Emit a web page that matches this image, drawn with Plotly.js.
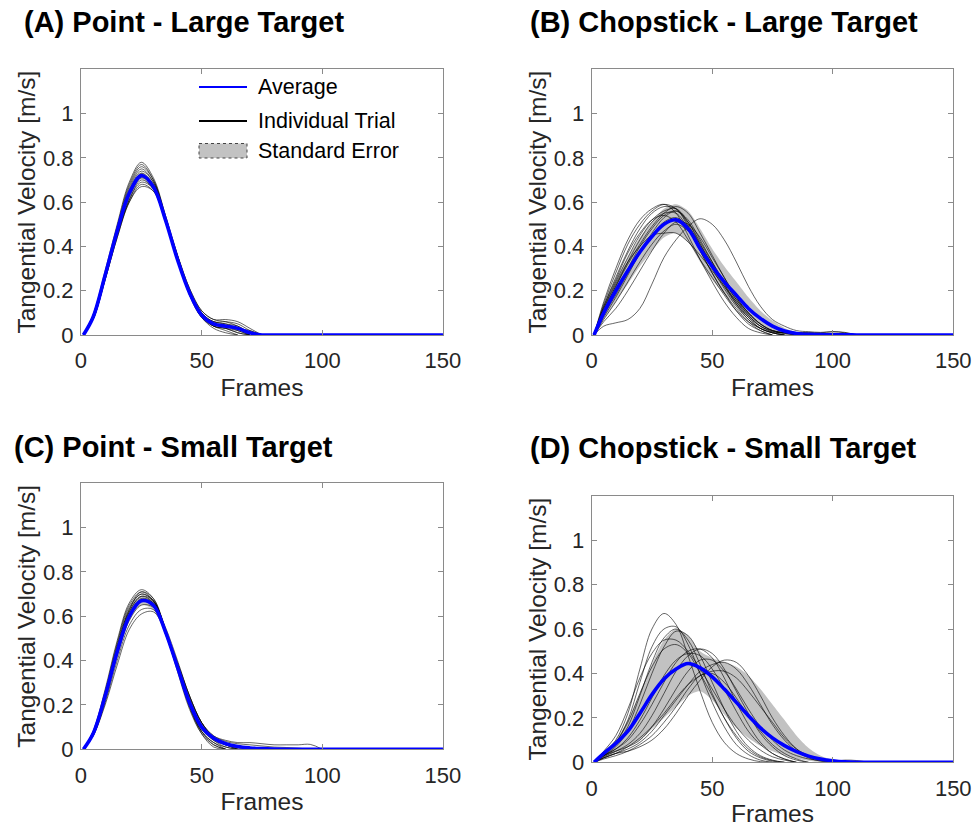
<!DOCTYPE html>
<html>
<head>
<meta charset="utf-8">
<script src="https://cdn.plot.ly/plotly-3.0.1.min.js"></script>
<style>html,body{margin:0;padding:0;background:#fff;}#chart{width:977px;height:827px;}</style>
</head>
<body>
<div id="chart"></div>
<script>
// ---------- DATA ----------
const FRAMES = [1,5,10,15,20,25,30,35,40,45,50,55,60,65,70,75,80,85,90,95,100,105,110,115,120,125,130,135,140,145,150];
const X_TICKS = [0,50,100,150];
const Y_TICKS = [0,0.2,0.4,0.6,0.8,1];
const Y_TICK_TEXT = ['0','0.2','0.4','0.6','0.8','1'];
const PANEL_TITLES = ['(A) Point - Large Target','(B) Chopstick - Large Target','(C) Point - Small Target','(D) Chopstick - Small Target'];
const LEGEND_LABELS = ['Average','Individual Trial','Standard Error'];

// Panel A – Point, large target
const avgA = [0,.08,.27,.47,.64,.72,.67,.52,.34,.19,.09,.05,.04,.03,.01,0,0,0,0,0,0,0,0,0,0,0,0,0,0,0,0];
const seUpperA = [0,.085,.28,.485,.655,.735,.685,.53,.35,.198,.097,.057,.047,.036,.015,0];
const seLowerA = [0,.075,.26,.455,.625,.705,.655,.51,.33,.182,.083,.043,.033,.024,.005,0];
const trialsA = [
  [0,.09,.29,.50,.69,.78,.71,.54,.35,.19,.09,.06,.05,.03,0],
  [0,.09,.28,.49,.68,.77,.70,.53,.34,.18,.08,.05,.04,.02,0],
  [0,.08,.28,.48,.67,.76,.70,.54,.36,.20,.10,.06,.05,.04,.01,0],
  [0,.08,.27,.48,.66,.75,.69,.53,.35,.19,.09,.04,.03,.01,0],
  [0,.08,.27,.47,.65,.74,.69,.53,.35,.20,.10,.06,.06,.05,.02,0],
  [0,.08,.27,.47,.64,.73,.68,.52,.34,.18,.08,.04,.02,0],
  [0,.08,.26,.46,.63,.72,.68,.53,.36,.21,.11,.07,.06,.04,.01,0],
  [0,.08,.26,.46,.62,.71,.67,.52,.34,.19,.08,.04,.03,.02,0],
  [0,.07,.26,.45,.61,.70,.66,.52,.35,.20,.10,.05,.04,.03,.02,0],
  [0,.07,.25,.45,.61,.69,.66,.52,.35,.20,.09,.04,.03,.01,0],
  [0,.07,.25,.44,.60,.68,.65,.51,.34,.19,.08,.03,.01,0],
  [0,.07,.25,.44,.60,.67,.65,.52,.36,.21,.11,.07,.07,.06,.03,0]
];

// Panel B – Chopstick, large target
const avgB = [0,.10,.20,.29,.375,.445,.50,.52,.48,.39,.31,.24,.18,.12,.075,.04,.018,.007,.003,.002,.001,.001,0,0,0,0,0,0,0,0,0];
const seUpperB = [0,.13,.25,.35,.44,.51,.57,.59,.56,.48,.39,.31,.24,.17,.11,.065,.032,.014,.006,.004,.003,.002,0];
const seLowerB = [0,.07,.15,.23,.31,.38,.44,.46,.42,.33,.25,.185,.13,.08,.045,.02,.007,.002,0,0,0,0,0];
const trialsB = [
  [0,.15,.30,.43,.52,.57,.59,.55,.45,.34,.24,.15,.08,.03,.01,0],
  [0,.14,.28,.41,.50,.56,.59,.57,.49,.38,.28,.19,.11,.05,.02,0],
  [0,.13,.26,.38,.48,.55,.58,.57,.50,.40,.30,.21,.13,.07,.03,.01,0],
  [0,.12,.24,.35,.45,.52,.56,.57,.51,.41,.31,.22,.14,.08,.04,.015,.01,.01,.01,0],
  [0,.11,.22,.33,.43,.51,.55,.55,.48,.38,.28,.19,.12,.06,.02,0],
  [0,.13,.25,.37,.46,.52,.54,.51,.43,.34,.26,.18,.11,.06,.03,.01,0],
  [0,.10,.20,.30,.40,.48,.54,.56,.51,.42,.33,.24,.16,.09,.04,.02,.01,0],
  [0,.12,.23,.33,.40,.45,.46,.46,.42,.36,.29,.22,.15,.09,.04,.015,.01,.01,.012,.01,.015,.01,0],
  [0,.09,.18,.28,.37,.45,.51,.53,.49,.41,.32,.23,.15,.08,.03,.01,0],
  [0,.08,.17,.27,.37,.46,.53,.56,.52,.43,.33,.23,.14,.07,.03,.01,0],
  [0,.07,.15,.24,.33,.41,.47,.50,.47,.40,.32,.24,.16,.10,.05,.02,.01,0],
  [0,.04,.055,.07,.12,.23,.35,.43,.49,.525,.50,.43,.33,.22,.13,.07,.04,.02,.015,.012,.015,.012,0],
  [0,.06,.12,.20,.29,.38,.46,.51,.50,.44,.35,.26,.17,.10,.05,.02,.005,0],
  [0,.11,.22,.32,.41,.49,.55,.58,.55,.46,.36,.26,.17,.10,.05,.02,.01,0]
];

// Panel C – Point, small target
const avgC = [0,.07,.24,.44,.60,.67,.65,.53,.37,.21,.10,.05,.025,.012,.006,.003,.001,0,0,0,0,0,0,0,0,0,0,0,0,0,0];
const seUpperC = [0,.078,.255,.46,.618,.69,.67,.547,.385,.222,.11,.057,.03,.016,.009,.005,.002,0];
const seLowerC = [0,.062,.225,.42,.582,.65,.63,.513,.355,.198,.09,.043,.02,.008,.003,.001,0,0];
const trialsC = [
  [0,.08,.27,.49,.66,.72,.68,.53,.35,.18,.07,.02,0],
  [0,.08,.26,.48,.65,.71,.67,.53,.36,.19,.08,.03,0],
  [0,.07,.25,.47,.64,.70,.67,.54,.37,.20,.08,.02,0],
  [0,.07,.25,.46,.63,.70,.67,.53,.36,.19,.07,.01,0],
  [0,.07,.24,.45,.62,.69,.67,.54,.38,.22,.10,.04,.01,0],
  [0,.07,.24,.44,.61,.68,.66,.54,.38,.22,.11,.05,.02,0],
  [0,.07,.23,.43,.60,.67,.66,.55,.40,.24,.12,.06,.04,.03,.03,.025,.02,.02,.02,.022,0],
  [0,.06,.22,.42,.58,.65,.64,.53,.38,.23,.12,.06,.035,.025,.02,.015,.01,.008,.005,0],
  [0,.06,.21,.40,.56,.63,.63,.53,.39,.24,.12,.05,.02,0],
  [0,.06,.20,.38,.54,.61,.62,.53,.39,.24,.12,.05,.02,.005,0],
  [0,.07,.25,.46,.63,.71,.68,.54,.37,.20,.08,.03,.01,0],
  [0,.07,.24,.45,.62,.69,.66,.52,.36,.20,.09,.04,.02,.01,0]
];

// Panel D – Chopstick, small target
const avgD = [0,.04,.085,.14,.22,.305,.375,.42,.445,.425,.385,.33,.27,.21,.155,.11,.075,.048,.028,.015,.007,.002,0,0,0,0,0,0,0,0,0];
const seUpperD = [0,.05,.10,.19,.31,.44,.55,.60,.57,.50,.47,.45,.43,.39,.33,.26,.19,.12,.065,.03,.012,.003,0];
const seLowerD = [0,.02,.045,.07,.10,.15,.20,.25,.30,.32,.28,.215,.155,.11,.075,.05,.03,.016,.007,.002,0,0,0];
const trialsD = [
  [0,.04,.10,.22,.42,.60,.67,.62,.48,.32,.18,.09,.04,.015,.003,0],
  [0,.04,.09,.19,.36,.52,.60,.61,.53,.40,.27,.16,.08,.035,.01,0],
  [0,.03,.08,.16,.30,.45,.56,.60,.55,.44,.31,.20,.11,.05,.02,.005,0],
  [0,.03,.07,.14,.26,.40,.52,.59,.57,.48,.36,.24,.14,.07,.03,.01,0],
  [0,.04,.09,.18,.31,.43,.51,.53,.49,.40,.30,.20,.12,.06,.025,.008,0],
  [0,.03,.06,.10,.17,.26,.36,.45,.50,.51,.47,.38,.27,.17,.09,.04,.015,0],
  [0,.025,.05,.08,.13,.21,.31,.41,.48,.51,.49,.42,.32,.22,.13,.07,.03,.01,0],
  [0,.03,.06,.11,.19,.29,.39,.46,.49,.48,.42,.33,.23,.14,.08,.04,.015,0],
  [0,.02,.04,.05,.07,.10,.15,.22,.30,.37,.43,.46,.45,.39,.30,.20,.12,.06,.025,.01,.003,0],
  [0,.02,.04,.06,.09,.14,.21,.28,.35,.41,.44,.45,.42,.35,.26,.17,.10,.05,.02,.005,0],
  [0,.02,.04,.07,.11,.16,.22,.29,.35,.39,.41,.41,.38,.32,.25,.18,.11,.06,.03,.01,.003,0],
  [0,.015,.03,.05,.08,.12,.18,.25,.33,.39,.40,.36,.29,.21,.14,.08,.04,.015,0],
  [0,.03,.05,.07,.10,.16,.24,.33,.41,.46,.46,.41,.33,.24,.16,.10,.055,.03,.015,.008,.004,.01,.008,0],
  [0,.05,.12,.24,.38,.49,.55,.55,.50,.42,.33,.24,.16,.10,.055,.025,.01,0]
];

// ---------- BUILD ----------
const FONT = 'Liberation Sans, Arial, Helvetica, sans-serif';
const BLUE = 'rgb(0,0,255)';
const BAND = 'rgb(194,194,194)';
const TRIAL = 'rgba(0,0,0,0.75)';
const AXC = '#8a8a8a';

const panels = [
  {avg: avgA, up: seUpperA, lo: seLowerA, trials: trialsA, xa: 'x',  ya: 'y'},
  {avg: avgB, up: seUpperB, lo: seLowerB, trials: trialsB, xa: 'x2', ya: 'y2'},
  {avg: avgC, up: seUpperC, lo: seLowerC, trials: trialsC, xa: 'x3', ya: 'y3'},
  {avg: avgD, up: seUpperD, lo: seLowerD, trials: trialsD, xa: 'x4', ya: 'y4'}
];

const traces = [];
panels.forEach((p) => {
  const xu = FRAMES.slice(0, p.up.length);
  const xl = FRAMES.slice(0, p.lo.length);
  traces.push({
    type: 'scatter', mode: 'lines', xaxis: p.xa, yaxis: p.ya,
    x: xu.concat(xl.slice().reverse()),
    y: p.up.concat(p.lo.slice().reverse()),
    fill: 'toself', fillcolor: BAND, line: {width: 0, color: BAND, shape: 'spline', smoothing: 0.8},
    name: 'Standard Error', showlegend: false, hoverinfo: 'skip'
  });
  p.trials.forEach((t) => {
    traces.push({
      type: 'scatter', mode: 'lines', xaxis: p.xa, yaxis: p.ya,
      x: FRAMES.slice(0, t.length), y: t,
      line: {color: TRIAL, width: 0.8, shape: 'spline', smoothing: 1},
      name: 'Individual Trial', showlegend: false
    });
  });
  traces.push({
    type: 'scatter', mode: 'lines', xaxis: p.xa, yaxis: p.ya,
    x: FRAMES.slice(0, p.avg.length), y: p.avg,
    line: {color: BLUE, width: 3.6, shape: 'spline', smoothing: 1},
    name: 'Average', showlegend: false
  });
});

function xAxis(dom, anchor) {
  return {
    domain: dom, anchor: anchor, range: [0, 150], tickvals: X_TICKS,
    showline: true, linecolor: AXC, linewidth: 1, mirror: 'ticks',
    ticks: 'inside', ticklen: 5, tickcolor: AXC, tickwidth: 1,
    showgrid: false, zeroline: false, automargin: false,
    ticklabelstandoff: 6,
    tickfont: {family: FONT, size: 22, color: '#262626'},
    title: {text: 'Frames', font: {family: FONT, size: 24.5, color: '#262626'}, standoff: 6}
  };
}
function yAxis(dom, anchor) {
  return {
    domain: dom, anchor: anchor, range: [0, 1.2], tickvals: Y_TICKS, ticktext: Y_TICK_TEXT,
    showline: true, linecolor: AXC, linewidth: 1, mirror: 'ticks',
    ticks: 'inside', ticklen: 5, tickcolor: AXC, tickwidth: 1,
    showgrid: false, zeroline: false, automargin: false,
    ticklabelstandoff: 2,
    tickfont: {family: FONT, size: 22, color: '#262626'},
    title: {text: 'Tangential Velocity [m/s]', font: {family: FONT, size: 24.5, color: '#262626'}, standoff: 0}
  };
}

const W = 977, H = 827;
const px = (v) => v / W;
const py = (v) => 1 - v / H;

const titlePos = [[22, 22], [528, 22], [12, 447], [528, 448]];
const annotations = PANEL_TITLES.map((t, i) => ({
  text: t, xref: 'paper', yref: 'paper', x: px(titlePos[i][0]), y: py(titlePos[i][1]),
  xanchor: 'left', yanchor: 'middle', showarrow: false,
  font: {family: FONT, size: 29, color: '#000', weight: 'bold'}
}));
const legY = [87, 121, 151];
LEGEND_LABELS.forEach((t, i) => {
  annotations.push({
    text: t, xref: 'paper', yref: 'paper', x: px(256), y: py(legY[i]),
    xanchor: 'left', yanchor: 'middle', showarrow: false,
    font: {family: FONT, size: 21.5, color: '#000'}
  });
});

const shapes = [
  {type: 'line', xref: 'paper', yref: 'paper', x0: px(199), x1: px(247), y0: py(87), y1: py(87), line: {color: BLUE, width: 2}},
  {type: 'line', xref: 'paper', yref: 'paper', x0: px(199), x1: px(247), y0: py(121), y1: py(121), line: {color: '#000', width: 2}},
  {type: 'rect', xref: 'paper', yref: 'paper', x0: px(199), x1: px(247), y0: py(143.5), y1: py(158), fillcolor: BAND, line: {color: '#444', width: 1, dash: 'dot'}}
];

const layout = {
  width: W, height: H, margin: {l: 0, r: 0, t: 0, b: 0},
  paper_bgcolor: '#fff', plot_bgcolor: '#fff', showlegend: false,
  font: {family: FONT, color: '#262626'},
  xaxis: xAxis([0.0829, 0.4534], 'y'),   yaxis: yAxis([0.5949, 0.9162], 'x'),
  xaxis2: xAxis([0.6056, 0.9757], 'y2'), yaxis2: yAxis([0.5949, 0.9162], 'x2'),
  xaxis3: xAxis([0.0829, 0.4534], 'y3'), yaxis3: yAxis([0.0940, 0.4156], 'x3'),
  xaxis4: xAxis([0.6056, 0.9757], 'y4'), yaxis4: yAxis([0.0782, 0.4006], 'x4'),
  annotations: annotations, shapes: shapes
};

Plotly.newPlot('chart', traces, layout, {displayModeBar: false, staticPlot: true});
</script>
</body>
</html>
